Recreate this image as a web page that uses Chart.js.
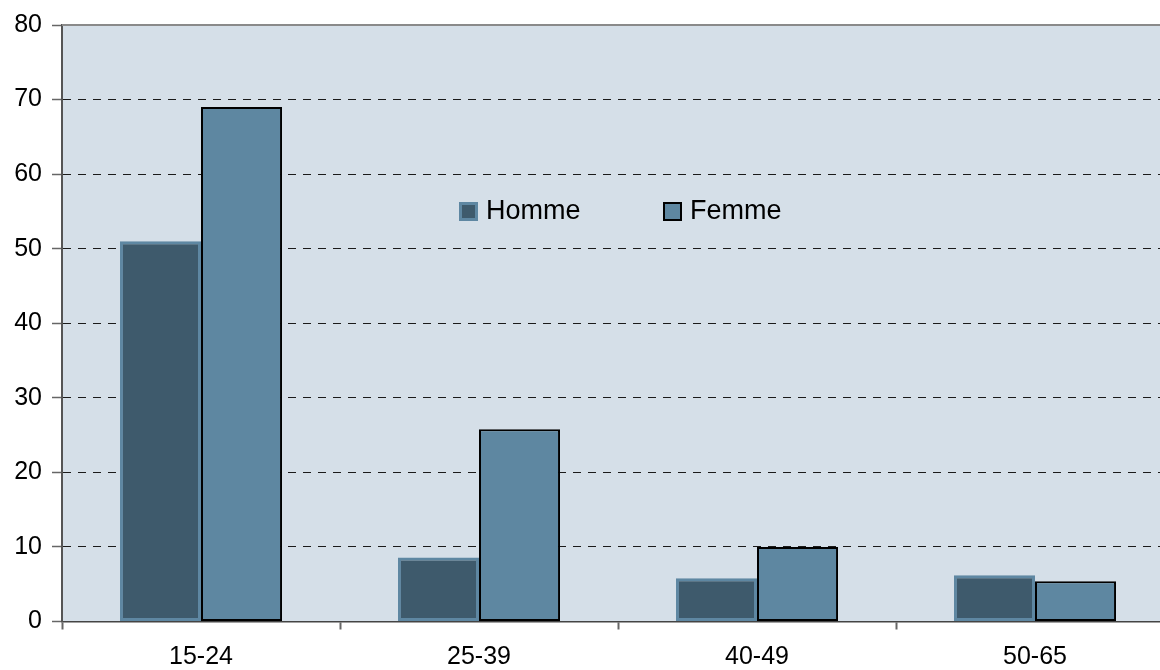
<!DOCTYPE html>
<html>
<head>
<meta charset="utf-8">
<script src="https://cdn.jsdelivr.net/npm/chart.js@4"></script>
<style>
html,body{margin:0;padding:0;background:#fff;overflow:hidden;width:1160px;height:670px;}
#wrap{width:1160px;height:670px;overflow:hidden;position:relative;}
canvas{display:block;}
</style>
</head>
<body>
<div id="wrap"><canvas id="c" width="1176" height="670"></canvas></div>
<script>
const categories = ['15-24', '25-39', '40-49', '50-65'];
const homme = [51, 8.6, 5.8, 6.2];
const femme = [69, 25.8, 10, 5.4];
const seriesNames = ['Homme', 'Femme'];
const yTicks = [0, 10, 20, 30, 40, 50, 60, 70, 80];

const FONT = 'Arial, "Liberation Sans", sans-serif';

const bgPlugin = {
  id: 'bg',
  beforeDraw(chart) {
    const {ctx, chartArea: a} = chart;
    ctx.save();
    ctx.fillStyle = '#d5dfe8';
    ctx.fillRect(a.left, a.top, a.right - a.left, a.bottom - a.top);
    ctx.restore();
  },
  afterDraw(chart) {
    const {ctx, chartArea: a} = chart;
    ctx.save();
    ctx.strokeStyle = '#8a8a8a';
    ctx.lineWidth = 2;
    ctx.beginPath();
    ctx.moveTo(a.left, a.top);
    ctx.lineTo(a.right, a.top);
    ctx.stroke();
    const ds = chart.data.datasets;
    const items = [
      {x: a.left + 397, ds: ds[0]},
      {x: a.left + 601, ds: ds[1]}
    ];
    const y = a.top + 177;
    ctx.font = '27px ' + FONT;
    ctx.textBaseline = 'middle';
    ctx.textAlign = 'left';
    items.forEach(it => {
      const s = 19;
      ctx.fillStyle = it.ds.backgroundColor;
      ctx.fillRect(it.x, y, s, s);
      ctx.strokeStyle = it.ds.borderColor;
      ctx.lineWidth = it.ds.borderWidth === 3 ? 3 : 2;
      ctx.strokeRect(it.x + ctx.lineWidth/2, y + ctx.lineWidth/2, s - ctx.lineWidth, s - ctx.lineWidth);
      ctx.fillStyle = '#000';
      ctx.fillText(it.ds.label, it.x + 27, y + s/2);
    });
    ctx.restore();
  }
};

new Chart(document.getElementById('c'), {
  type: 'bar',
  data: {
    labels: categories,
    datasets: [
      {
        label: seriesNames[0],
        data: homme,
        backgroundColor: '#3e5a6c',
        borderColor: '#5e87a2',
        borderWidth: 3,
        borderSkipped: false,
        categoryPercentage: 0.583,
        barPercentage: 1.0
      },
      {
        label: seriesNames[1],
        data: femme,
        backgroundColor: '#5e87a1',
        borderColor: '#000000',
        borderWidth: 2,
        borderSkipped: false,
        categoryPercentage: 0.583,
        barPercentage: 1.0
      }
    ]
  },
  options: {
    responsive: false,
    animation: false,
    devicePixelRatio: 1,
    layout: {padding: {top: 23, right: 2, left: 0, bottom: 0}},
    plugins: {legend: {display: false}, tooltip: {enabled: false}},
    scales: {
      x: {
        offset: true,
        grid: {
          offset: true,
          drawOnChartArea: false,
          drawTicks: true,
          tickLength: 8,
          tickColor: '#666',
          tickWidth: 2
        },
        border: {display: true, color: '#444', width: 1.5},
        ticks: {
          color: '#000',
          font: {family: FONT, size: 25},
          padding: 13,
          maxRotation: 0
        },
        afterFit(scale) { scale.height = 48.5; }
      },
      y: {
        min: 0,
        max: 80,
        afterBuildTicks(scale) { scale.ticks = yTicks.map(v => ({value: v})); },
        grid: {
          color: ctx => (ctx.tick && (ctx.tick.value === 0 || ctx.tick.value === 80)) ? 'rgba(0,0,0,0)' : '#1a1a1a',
          lineWidth: 1,
          drawTicks: true,
          tickLength: 10,
          tickColor: '#666',
          tickWidth: 1.5,
          tickBorderDash: []
        },
        border: {display: true, color: '#555', width: 2, dash: [8, 7]},
        ticks: {
          color: '#000',
          font: {family: FONT, size: 25},
          padding: 10
        },
        afterFit(scale) { scale.width = 62; }
      }
    }
  },
  plugins: [bgPlugin]
});
</script>
</body>
</html>
